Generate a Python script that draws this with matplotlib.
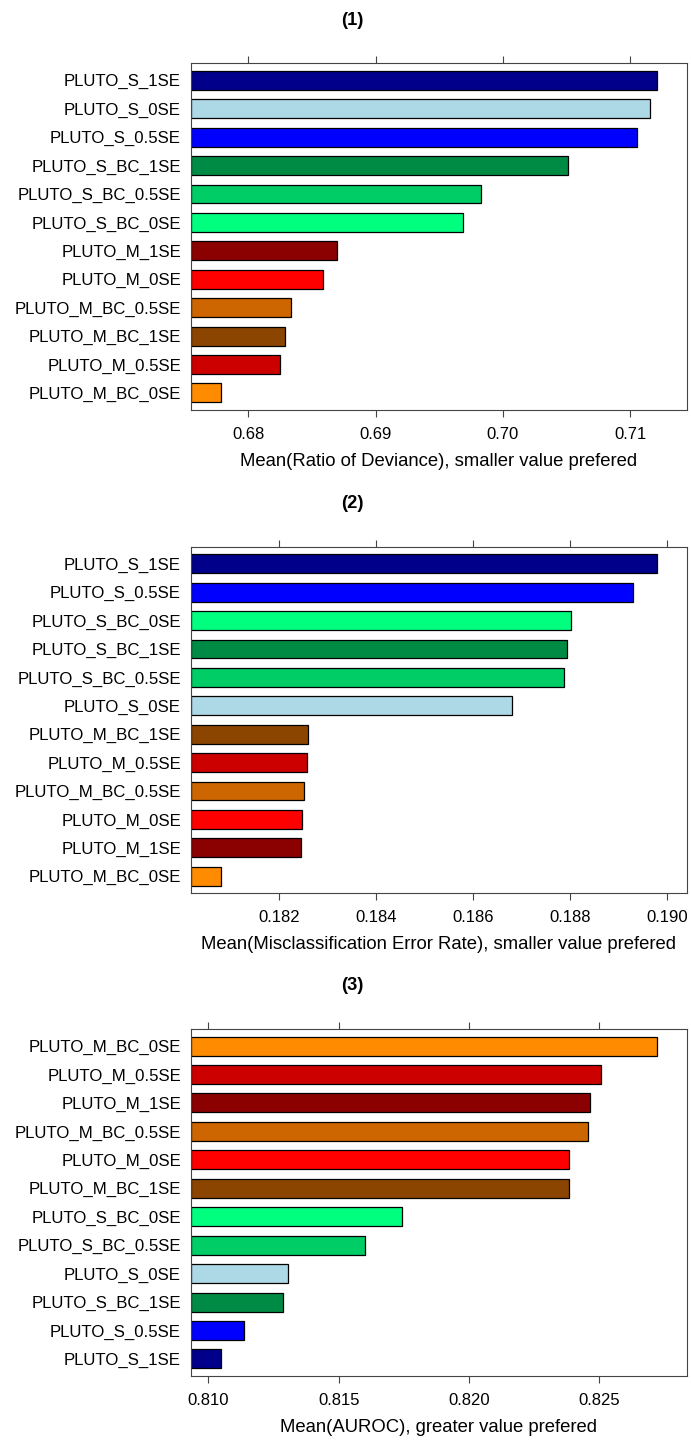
import matplotlib
matplotlib.use("Agg")
import matplotlib.pyplot as plt

plt.rcParams['font.family'] = ['Liberation Sans', 'DejaVu Sans']

# colours per model
colors = {
    "PLUTO_S_1SE": "#00008B",
    "PLUTO_S_0SE": "#ADD8E6",
    "PLUTO_S_0.5SE": "#0000FF",
    "PLUTO_S_BC_1SE": "#008B45",
    "PLUTO_S_BC_0.5SE": "#00CD66",
    "PLUTO_S_BC_0SE": "#00FF7F",
    "PLUTO_M_1SE": "#8B0000",
    "PLUTO_M_0SE": "#FF0000",
    "PLUTO_M_BC_0.5SE": "#CD6600",
    "PLUTO_M_BC_1SE": "#8B4500",
    "PLUTO_M_0.5SE": "#CD0000",
    "PLUTO_M_BC_0SE": "#FF8C00",
}

# panel 1 (top to bottom)
labels1 = ["PLUTO_S_1SE", "PLUTO_S_0SE", "PLUTO_S_0.5SE", "PLUTO_S_BC_1SE",
           "PLUTO_S_BC_0.5SE", "PLUTO_S_BC_0SE", "PLUTO_M_1SE", "PLUTO_M_0SE",
           "PLUTO_M_BC_0.5SE", "PLUTO_M_BC_1SE", "PLUTO_M_0.5SE", "PLUTO_M_BC_0SE"]
values1 = [0.7121, 0.7116, 0.71055, 0.70513, 0.69826, 0.69690,
           0.68694, 0.68584, 0.68338, 0.68291, 0.68249, 0.67788]
ticks1 = [0.68, 0.69, 0.70, 0.71]
ticklabels1 = ["0.68", "0.69", "0.70", "0.71"]
xlim1 = (0.67548, 0.71445)

# panel 2
labels2 = ["PLUTO_S_1SE", "PLUTO_S_0.5SE", "PLUTO_S_BC_0SE", "PLUTO_S_BC_1SE",
           "PLUTO_S_BC_0.5SE", "PLUTO_S_0SE", "PLUTO_M_BC_1SE", "PLUTO_M_0.5SE",
           "PLUTO_M_BC_0.5SE", "PLUTO_M_0SE", "PLUTO_M_1SE", "PLUTO_M_BC_0SE"]
values2 = [0.18978, 0.18929, 0.18802, 0.18794, 0.18787, 0.18681,
           0.18259, 0.18257, 0.18252, 0.18247, 0.18245, 0.18081]
ticks2 = [0.182, 0.184, 0.186, 0.188, 0.190]
ticklabels2 = ["0.182", "0.184", "0.186", "0.188", "0.190"]
xlim2 = (0.18018, 0.19040)

# panel 3
labels3 = ["PLUTO_M_BC_0SE", "PLUTO_M_0.5SE", "PLUTO_M_1SE", "PLUTO_M_BC_0.5SE",
           "PLUTO_M_0SE", "PLUTO_M_BC_1SE", "PLUTO_S_BC_0SE", "PLUTO_S_BC_0.5SE",
           "PLUTO_S_0SE", "PLUTO_S_BC_1SE", "PLUTO_S_0.5SE", "PLUTO_S_1SE"]
values3 = [0.8272, 0.82505, 0.82464, 0.82457, 0.82383, 0.82382,
           0.81743, 0.81600, 0.81305, 0.81287, 0.81136, 0.8105]
ticks3 = [0.810, 0.815, 0.820, 0.825]
ticklabels3 = ["0.810", "0.815", "0.820", "0.825"]
xlim3 = (0.80932, 0.82835)

titles = ["(1)", "(2)", "(3)"]
xlabels = ["Mean(Ratio of Deviance), smaller value prefered",
           "Mean(Misclassification Error Rate), smaller value prefered",
           "Mean(AUROC), greater value prefered"]

W, H = 691, 1440
fig = plt.figure(figsize=(W / 100, H / 100), dpi=100)

# panel boxes in pixels: (top, bottom)
left_px, right_px = 190.7, 686.7
boxes = [(63.3, 410.0), (546.7, 893.3), (1029.0, 1376.0)]

panels = [(labels1, values1, ticks1, ticklabels1, xlim1),
          (labels2, values2, ticks2, ticklabels2, xlim2),
          (labels3, values3, ticks3, ticklabels3, xlim3)]

for i, (labs, vals, tks, tlabs, xl) in enumerate(panels):
    top, bot = boxes[i]
    ax = fig.add_axes([left_px / W, 1 - bot / H, (right_px - left_px) / W, (bot - top) / H])
    n = len(labs)
    ypos = list(range(n, 0, -1))
    ax.barh(ypos, [v - xl[0] for v in vals], left=xl[0], height=2 / 3,
            color=[colors[l] for l in labs], edgecolor="black", linewidth=0.9)
    ax.set_xlim(*xl)
    ax.set_ylim(0.4, n + 0.6)
    ax.set_yticks(ypos)
    ax.set_yticklabels(labs, fontsize=12.1)
    ax.tick_params(axis="y", length=0, pad=7)
    ax.set_xticks(tks)
    ax.set_xticklabels(tlabs, fontsize=12)
    ax.tick_params(axis="x", top=True, bottom=True, direction="out", length=5,
                   width=0.8, color="#444444", pad=7)
    for sp in ax.spines.values():
        sp.set_color("#444444")
        sp.set_linewidth(0.8)
    ax.set_xlabel(xlabels[i], fontsize=13.3, labelpad=8)
    fig.text(352.7 / W, 1 - (top - 43) / H, titles[i], ha="center", va="center",
             fontsize=13.2, fontweight="bold")

fig.savefig("out.png", dpi=100)
